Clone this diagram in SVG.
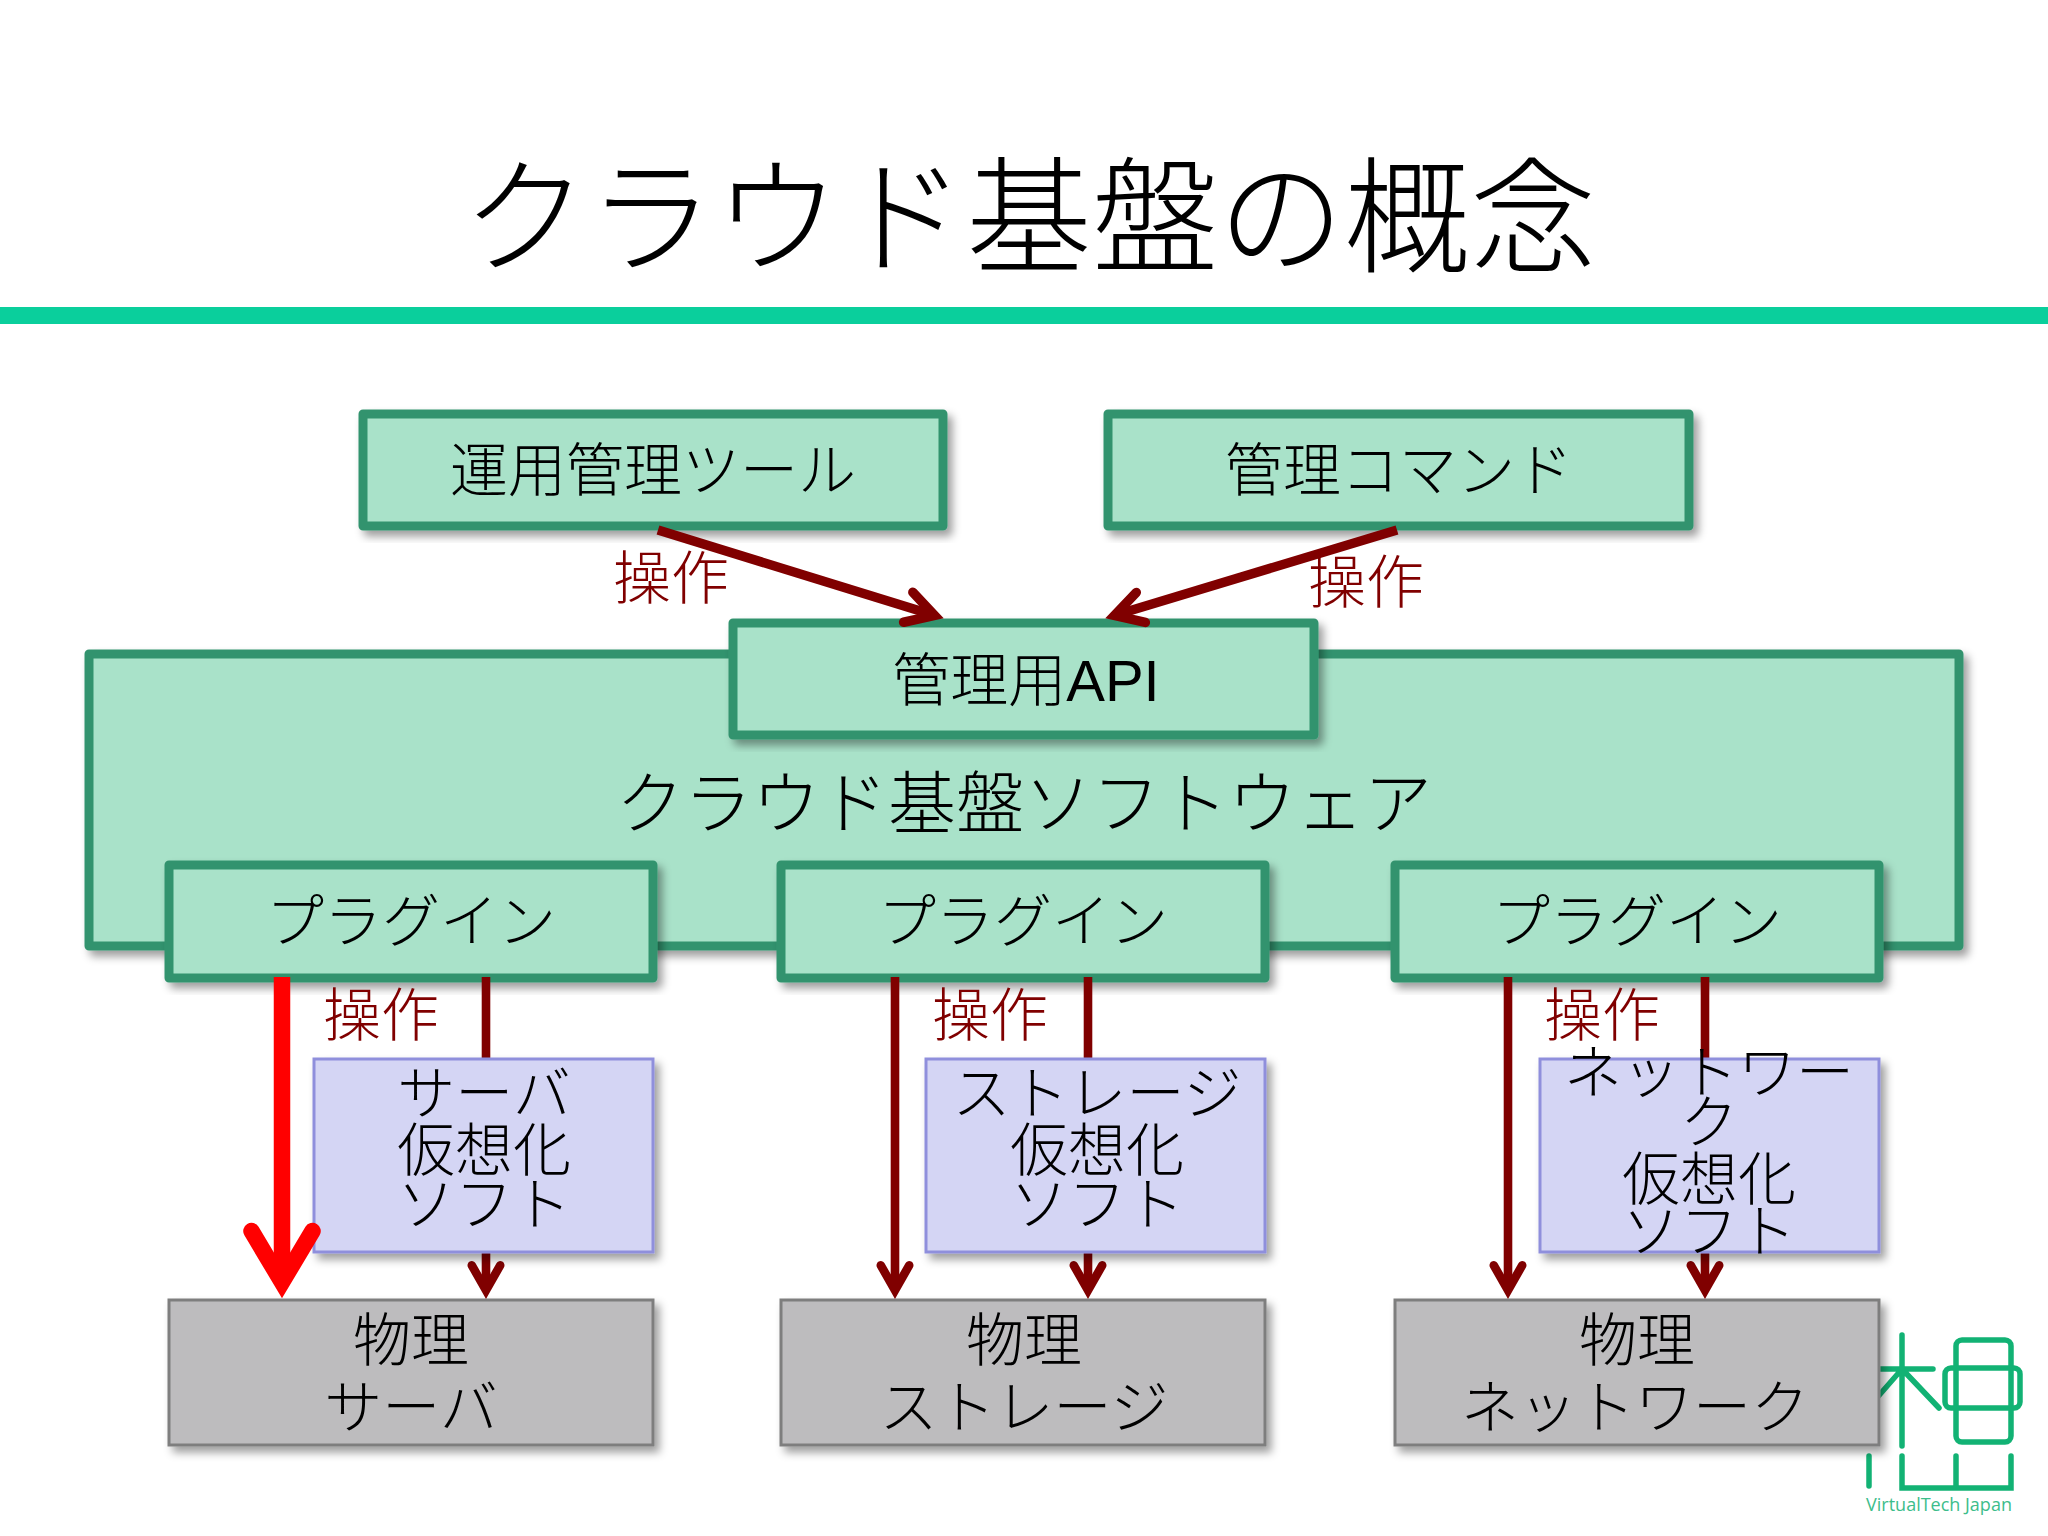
<svg xmlns="http://www.w3.org/2000/svg" width="2048" height="1536" viewBox="0 0 2048 1536">
<style>
text{font-family:"Noto Sans CJK JP","Noto Sans CJK SC",sans-serif;font-weight:300;text-anchor:middle;fill:#000;font-size:58px}
.title{font-size:126px}
.big{font-size:68px}
.op{fill:#800000}
.latin{font-family:"Liberation Sans",sans-serif;font-weight:400}
.green rect,.big-box{fill:#a9e2c9;stroke:#33936e;stroke-width:9;stroke-linejoin:round}
.green rect{filter:url(#sh)}
.purple rect{fill:#d4d5f4;stroke:#8f8fdc;stroke-width:3;filter:url(#sh)}
.gray rect{fill:#bdbcbe;stroke:#7e7e7e;stroke-width:3;filter:url(#sh)}
.dark{stroke:#800000;stroke-width:8.6;fill:none;marker-end:url(#ah)}
.diag{stroke-width:9.5}
.red{stroke:#ff0000;stroke-width:16.5;fill:none;marker-end:url(#ahr)}
.logo *{fill:none;stroke:#12b274;stroke-width:5.5;stroke-linecap:round}
.logo text{fill:#3dbd8b;stroke:none;font-family:"Open Sans",sans-serif;font-weight:400;font-size:18px}
</style>
<defs>
<filter id="sh" x="-10%" y="-10%" width="120%" height="125%"><feDropShadow dx="5" dy="6" stdDeviation="4" flood-color="#000" flood-opacity="0.38"/></filter>
<marker id="ah" viewBox="-6 -3 7 6" refX="-1.5" refY="0" markerWidth="7" markerHeight="6" orient="auto" markerUnits="strokeWidth"><path d="M-3.9,-1.65L-1,0L-3.9,1.65" fill="none" stroke="#800000" stroke-width="1" stroke-linecap="round" stroke-miterlimit="10"/></marker>
<marker id="ahr" viewBox="-6 -3 7 6" refX="-1.5" refY="0" markerWidth="7" markerHeight="6" orient="auto" markerUnits="strokeWidth"><path d="M-4.1,-1.85L-1,0L-4.1,1.85" fill="none" stroke="#ff0000" stroke-width="1" stroke-linecap="round" stroke-miterlimit="10"/></marker>
</defs>
<rect width="2048" height="1536" fill="#fff"/>
<text class="title" x="1029" y="263">クラウド基盤の概念</text>
<rect x="0" y="307" width="2048" height="17" fill="#0acf9c"/>

<g id="logo" class="logo">
<path d="M1902,1335V1446M1879,1369H1933M1902,1369L1939,1408M1902,1369L1868,1408"/>
<rect x="1956" y="1340" width="55" height="102" rx="6"/>
<rect x="1945" y="1368" width="75" height="40" rx="6"/>
<path d="M1869,1456V1486M1902,1456V1488H2011V1456M1956,1456V1488"/>
<text x="1939" y="1511">VirtualTech Japan</text>
</g>

<g id="cloud-software"><rect class="big-box" x="89" y="654" width="1870" height="292" style="filter:url(#sh)"/><text class="big" x="1024" y="828">クラウド基盤ソフトウェア</text></g>
<g id="tool" class="green"><rect x="363" y="414" width="580" height="112"/><text x="653" y="491">運用管理ツール</text></g>
<g id="command" class="green"><rect x="1108" y="414" width="581" height="112"/><text x="1399" y="491">管理コマンド</text></g>
<g id="api" class="green"><rect x="733" y="623" width="581" height="112"/><text x="1026" y="701">管理用<tspan class="latin">API</tspan></text></g>
<g id="plugin-1" class="green"><rect x="169" y="865" width="484" height="113"/><text x="411" y="942">プラグイン</text></g>
<g id="plugin-2" class="green"><rect x="781" y="865" width="484" height="113"/><text x="1023" y="942">プラグイン</text></g>
<g id="plugin-3" class="green"><rect x="1395" y="865" width="484" height="113"/><text x="1637" y="942">プラグイン</text></g>
<g id="physical-server" class="gray"><rect x="169" y="1300" width="484" height="145"/><text x="411" y="1361">物理</text><text x="411" y="1428">サーバ</text></g>
<g id="physical-storage" class="gray"><rect x="781" y="1300" width="484" height="145"/><text x="1024" y="1361">物理</text><text x="1024" y="1428">ストレージ</text></g>
<g id="physical-network" class="gray"><rect x="1395" y="1300" width="484" height="145"/><text x="1637" y="1361">物理</text><text x="1635" y="1428">ネットワーク</text></g>

<g id="connectors">
<line class="dark diag" x1="658" y1="530" x2="930" y2="614"/>
<line class="dark diag" x1="1397" y1="530" x2="1119" y2="614"/>
<line class="dark" x1="486" y1="977" x2="486" y2="1286"/>
<line class="dark" x1="895" y1="977" x2="895" y2="1286"/>
<line class="dark" x1="1088" y1="977" x2="1088" y2="1286"/>
<line class="dark" x1="1508" y1="977" x2="1508" y2="1286"/>
<line class="dark" x1="1705" y1="977" x2="1705" y2="1286"/>
</g>
<g id="labels">
<text class="op" x="671" y="599">操作</text>
<text class="op" x="1366" y="603">操作</text>
<text class="op" x="381" y="1036">操作</text>
<text class="op" x="990" y="1036">操作</text>
<text class="op" x="1602" y="1036">操作</text>
</g>
<g id="virt-server" class="purple"><rect x="314" y="1059" width="339" height="193"/><text x="484" y="1114">サーバ</text><text x="484" y="1171">仮想化</text><text x="484" y="1225">ソフト</text></g>
<g id="virt-storage" class="purple"><rect x="926" y="1059" width="339" height="193"/><text x="1097" y="1114">ストレージ</text><text x="1097" y="1171">仮想化</text><text x="1097" y="1225">ソフト</text></g>
<g id="virt-network" class="purple"><rect x="1540" y="1059" width="339" height="193"/><text x="1709" y="1093">ネットワー</text><text x="1709" y="1143">ク</text><text x="1709" y="1200">仮想化</text><text x="1709" y="1252">ソフト</text></g>
<g id="connector-highlight">
<line class="red" x1="282" y1="977" x2="282" y2="1274"/>
</g>
</svg>
